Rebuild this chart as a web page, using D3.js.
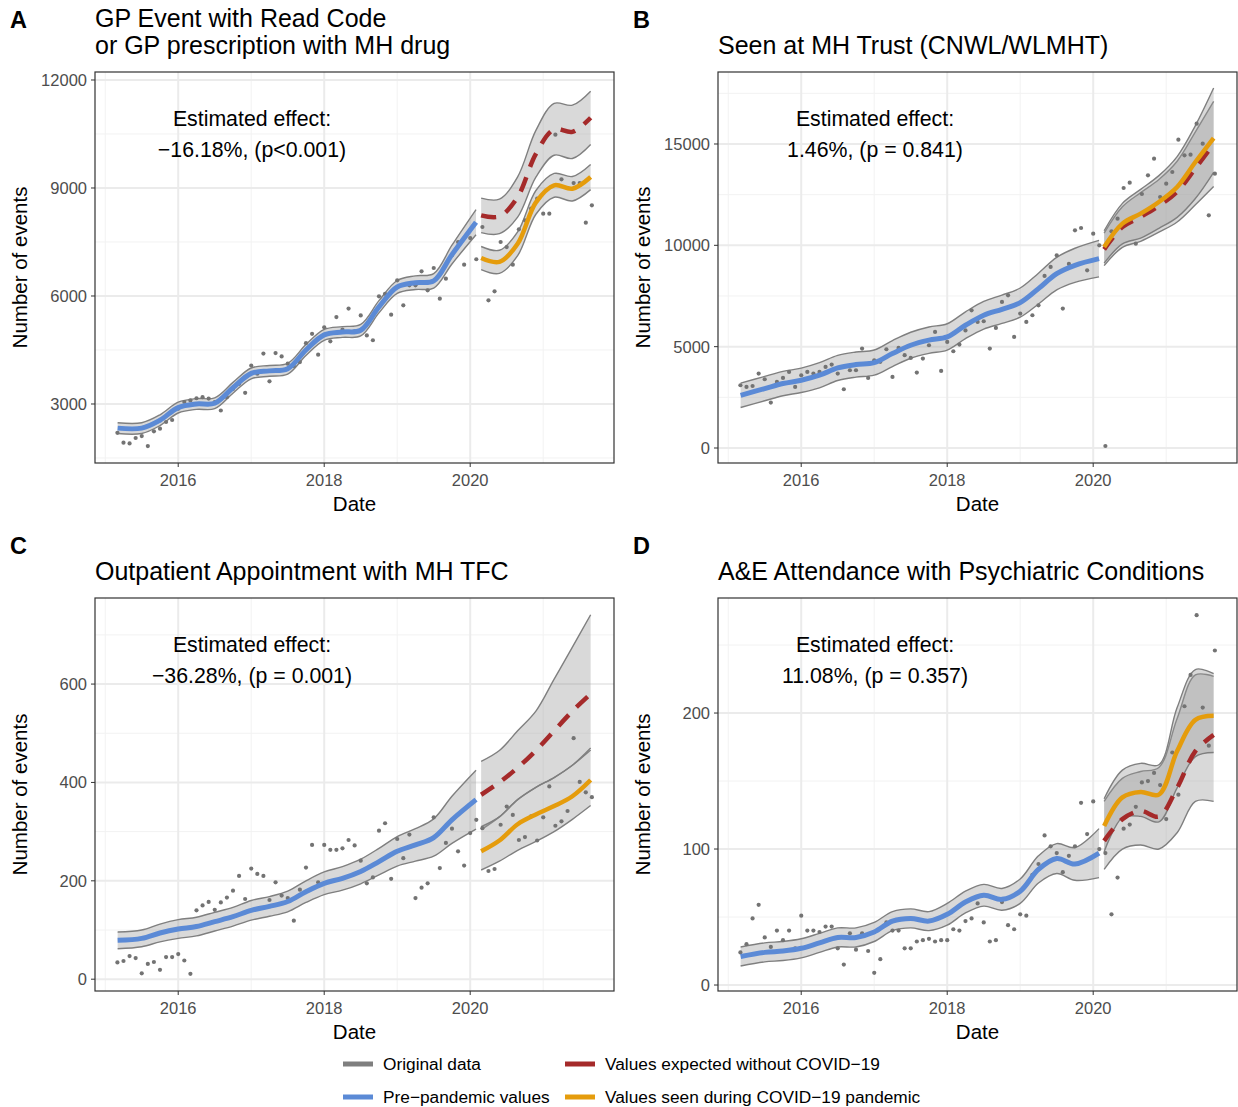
<!DOCTYPE html>
<html><head><meta charset="utf-8">
<script src="https://cdn.jsdelivr.net/npm/d3@7"></script>
<style>body{margin:0;background:#fff}text{font-family:"Liberation Sans",Arial,sans-serif}</style>
</head><body><svg id="chart" width="1238" height="1107"></svg>
<script>
// month positions
var PRE_START = 2015.167, COV_START = 2020.167
var PRE_KNOTS = [2015.17,2015.5,2015.75,2016,2016.25,2016.5,2016.75,2017,2017.25,2017.5,2017.75,2018,2018.25,2018.5,2018.75,2019,2019.25,2019.5,2019.75,2020.08]
var COV_KNOTS = [2020.15,2020.4,2020.65,2020.9,2021.15,2021.4,2021.65]
var X_TICKS = [2016,2018,2020]

// panel A
var aPts = [2200,1925,1905,2055,2110,1830,2240,2315,2500,2555,2870,3055,3100,3160,3190,3150,3050,2820,3190,3420,3560,3310,4070,3840,4400,3630,4415,4320,4120,4055,4165,4690,4950,4370,5130,4740,5415,5065,5650,5020,5460,4905,4770,5990,6060,5480,6435,5740,6295,6295,6685,6157,6777,5925,6480,7130,7500,6870,7610,7020]
var aCovPts = [7916,5879,6129,7500,7360,6870,7851,8101,8425,8703,8287,8287,10481,9240,9000,9138,9138,8037,8518]
var aFit = [2330,2330,2550,2900,3000,3020,3450,3850,3920,3980,4500,4920,5000,5050,5700,6250,6370,6420,7150,8050]
var aHw = [150,150,150,150,150,150,150,150,150,150,150,150,150,160,170,180,190,200,260,350]
var aCf = [8240,8210,8750,9950,10630,10560,10950]
var aCfLo = [7760,7730,8190,9300,9910,9820,10210]
var aCfHi = [8720,8690,9310,10600,11350,11300,11690]
var aObs = [7055,6950,7450,8600,9074,8980,9305]
var aObsLo = [6735,6630,7120,8270,8744,8640,8955]
var aObsHi = [7375,7270,7780,8930,9404,9320,9655]

// panel B
var bPts = [3096,3014,3060,3672,3392,2242,3261,3458,3754,3014,3590,3754,3672,3754,4000,4116,3672,2899,3836,3836,4905,3458,4330,4250,4872,3508,4937,4580,4444,3721,4412,5069,5727,3804,5234,4773,5102,5800,6795,6220,6253,4905,5925,7207,7535,5480,6631,6220,6550,7042,8489,8933,9508,6878,9080,10741,10856,8768,10577,10001]
var bCovPts = [100,10692,11316,12829,13092,10083,12533,13454,14276,12385,13043,13618,15213,14440,14473,16002,15015,11481,13536]
var bFit = [2600,2932,3180,3340,3590,3950,4116,4214,4660,5070,5320,5480,6056,6550,6845,7174,7864,8604,9015,9344]
var bHw = [600,600,600,600,620,620,620,620,640,640,650,650,660,680,700,720,760,800,840,900]
var bCf = [9800,10900,11400,11950,12650,13800,15000]
var bCfLo = [9000,9900,10200,10650,11150,12000,12900]
var bCfHi = [10600,11900,12600,13250,14150,15600,17100]
var bObs = [9919,11070,11563,12138,12878,14111,15295]
var bObsLo = [9120,10070,10360,10840,11380,12310,13600]
var bObsHi = [10720,12070,12760,13440,14380,15910,17760]

// panel C
var cPts = [34,37,47,43,12,31,35,19,45,45,51,38,11,140,150,157,141,156,166,180,210,163,225,214,210,161,197,170,165,119,182,227,273,197,273,263,263,266,283,272,241,195,207,302,317,204,285,246,294,165,186,195,329,226,277,306,260,231,297,324]
var cCovPts = [307,220,224,314,351,334,283,289,331,282,329,392,312,321,342,490,401,380,370]
var cFit = [79,83,94,102,107,117,127,140,148,158,178,195,205,219,239,260,273,288,324,365]
var cHw = [17,17,18,19,19,19,19,20,20,21,22,23,24,25,27,30,33,38,48,60]
var cCf = [375,400,430,465,505,545,580]
var cCfLo = [304,330,365,390,410,435,470]
var cCfHi = [443,465,505,545,610,675,741]
var cObs = [260,282,315,335,352,372,405]
var cObsLo = [222,240,262,280,300,325,353]
var cObsHi = [310,330,365,390,410,435,466]

// panel D
var dPts = [24,30,49,59,35,28,40,33,40,27,51,40,40,39,43,43,27,15,38,26,38,25,9,19,46,40,40,27,27,32,33,34,32,33,33,41,40,47,49,60,46,32,33,61,44,41,52,51,81,89,110,102,97,83,95,102,134,111,135,100]
var dCovPts = [97,52,79,115,118,131,149,150,156,147,122,171,140,205,228,272,204,176,246]
var dFit = [21,24,25,27,31,35,35,39,47,49,47,52,61,66,63,69,85,93,89,97]
var dHw = [7,7,7,7,7,7,7,7,7,7,7,8,8,8,8,9,10,11,12,18]
var dCf = [106,122,128,124,145,172,184]
var dCfLo = [85,100,103,100,112,135,135]
var dCfHi = [135,152,157,160,196,228,227]
var dObs = [117,138,142,140,172,195,198]
var dObsLo = [98,123,124,120,145,168,171]
var dObsHi = [137,158,163,162,204,232,229]

var COL_BLUE = "#5b8ad6", COL_RED = "#a52a2a", COL_ORANGE = "#e59c0c", COL_GREY = "#7f7f7f"

var svg = d3.select("#chart")

var panels = [
  {tag:"A", title:["GP Event with Read Code","or GP prescription with MH drug"], x:95, y:72, h:391, dom:[1361,12222], ticks:[3000,6000,9000,12000], minor:[1500,4500,7500,10500],
   eff:"\u221216.18%, (p<0.001)", pts:aPts, cov:aCovPts, fit:aFit, hw:aHw, cf:aCf, cfLo:aCfLo, cfHi:aCfHi, obs:aObs, obsLo:aObsLo, obsHi:aObsHi},
  {tag:"B", title:["Seen at MH Trust (CNWL/WLMHT)"], x:718, y:72, h:391, dom:[-740,18552], ticks:[0,5000,10000,15000], minor:[2500,7500,12500,17500],
   eff:"1.46%, (p = 0.841)", pts:bPts, cov:bCovPts, fit:bFit, hw:bHw, cf:bCf, cfLo:bCfLo, cfHi:bCfHi, obs:bObs, obsLo:bObsLo, obsHi:bObsHi},
  {tag:"C", title:["Outpatient Appointment with MH TFC"], x:95, y:598, h:393, dom:[-24,775], ticks:[0,200,400,600], minor:[100,300,500,700],
   eff:"\u221236.28%, (p = 0.001)", pts:cPts, cov:cCovPts, fit:cFit, hw:cHw, cf:cCf, cfLo:cCfLo, cfHi:cCfHi, obs:cObs, obsLo:cObsLo, obsHi:cObsHi},
  {tag:"D", title:["A&E Attendance with Psychiatric Conditions"], x:718, y:598, h:393, dom:[-4.4,284.6], ticks:[0,100,200], minor:[50,150,250],
   eff:"11.08%, (p = 0.357)", pts:dPts, cov:dCovPts, fit:dFit, hw:dHw, cf:dCf, cfLo:dCfLo, cfHi:dCfHi, obs:dObs, obsLo:dObsLo, obsHi:dObsHi}
]

panels.forEach(drawPanel)
drawLegend()

function drawPanel(p) {
  var W = 519
  var g = svg.append("g").attr("transform", "translate(" + p.x + "," + p.y + ")")
  var x = d3.scaleLinear().domain([2014.86, 2021.97]).range([0, W])
  var y = d3.scaleLinear().domain(p.dom).range([p.h, 0])

  // grid
  ;[2015,2017,2019,2021].forEach(function(t) {
    g.append("line").attr("x1", x(t)).attr("x2", x(t)).attr("y1", 0).attr("y2", p.h).attr("stroke", "#f2f2f2").attr("stroke-width", 1)
  })
  p.minor.forEach(function(v) {
    if (y(v) > 0) g.append("line").attr("x1", 0).attr("x2", W).attr("y1", y(v)).attr("y2", y(v)).attr("stroke", "#f2f2f2").attr("stroke-width", 1)
  })
  X_TICKS.forEach(function(t) {
    g.append("line").attr("x1", x(t)).attr("x2", x(t)).attr("y1", 0).attr("y2", p.h).attr("stroke", "#ebebeb").attr("stroke-width", 2)
  })
  p.ticks.forEach(function(v) {
    g.append("line").attr("x1", 0).attr("x2", W).attr("y1", y(v)).attr("y2", y(v)).attr("stroke", "#ebebeb").attr("stroke-width", 2)
  })

  var preRows = PRE_KNOTS.map(function(t, i) { return {t:t, v:p.fit[i], lo:p.fit[i]-p.hw[i], hi:p.fit[i]+p.hw[i]} })
  var cfRows = COV_KNOTS.map(function(t, i) { return {t:t, v:p.cf[i], lo:p.cfLo[i], hi:p.cfHi[i]} })
  var obsRows = COV_KNOTS.map(function(t, i) { return {t:t, v:p.obs[i], lo:p.obsLo[i], hi:p.obsHi[i]} })

  var curve = d3.curveCatmullRom
  var area = d3.area().curve(curve).x(function(d) { return x(d.t) }).y0(function(d) { return y(d.lo) }).y1(function(d) { return y(d.hi) })
  var line = function(key) { return d3.line().curve(curve).x(function(d) { return x(d.t) }).y(function(d) { return y(d[key]) }) }

  ;[preRows, cfRows, obsRows].forEach(function(rows) {
    g.append("path").datum(rows).attr("d", area).attr("fill", "#9a9a9a").attr("fill-opacity", 0.38)
    ;["lo","hi"].forEach(function(k) {
      g.append("path").datum(rows).attr("d", line(k)).attr("fill", "none").attr("stroke", COL_GREY).attr("stroke-width", 1.4)
    })
  })

  // points
  var pts = p.pts.map(function(v, i) { return {t:PRE_START + i/12, v:v} })
    .concat(p.cov.map(function(v, i) { return {t:COV_START + i/12, v:v} }))
  g.selectAll("circle.pt").data(pts).enter().append("circle")
    .attr("cx", function(d) { return x(d.t) }).attr("cy", function(d) { return y(d.v) })
    .attr("r", 2.1).attr("fill", "#737373")

  g.append("path").datum(preRows).attr("d", line("v")).attr("fill", "none").attr("stroke", COL_BLUE).attr("stroke-width", 5)
  g.append("path").datum(cfRows).attr("d", line("v")).attr("fill", "none").attr("stroke", COL_RED).attr("stroke-width", 4.5).attr("stroke-dasharray", "15,11")
  g.append("path").datum(obsRows).attr("d", line("v")).attr("fill", "none").attr("stroke", COL_ORANGE).attr("stroke-width", 4.5)

  // border
  g.append("rect").attr("width", W).attr("height", p.h).attr("fill", "none").attr("stroke", "#333").attr("stroke-width", 1.2)

  // axes ticks
  X_TICKS.forEach(function(t) {
    g.append("line").attr("x1", x(t)).attr("x2", x(t)).attr("y1", p.h).attr("y2", p.h + 4).attr("stroke", "#333")
    g.append("text").attr("x", x(t)).attr("y", p.h + 23).attr("text-anchor", "middle").attr("font-size", 16.5).attr("fill", "#4d4d4d").text(t)
  })
  p.ticks.forEach(function(v) {
    g.append("line").attr("x1", -4).attr("x2", 0).attr("y1", y(v)).attr("y2", y(v)).attr("stroke", "#333")
    g.append("text").attr("x", -8).attr("y", y(v) + 6).attr("text-anchor", "end").attr("font-size", 16.5).attr("fill", "#4d4d4d").text(v)
  })

  g.append("text").attr("x", W/2).attr("y", p.h + 48).attr("text-anchor", "middle").attr("font-size", 20.5).text("Date")
  g.append("text").attr("transform", "translate(" + (-68) + "," + (p.h/2) + ") rotate(-90)").attr("text-anchor", "middle").attr("font-size", 20.5).text("Number of events")

  // effect label
  g.append("text").attr("x", 157).attr("y", 54).attr("text-anchor", "middle").attr("font-size", 21.3).text("Estimated effect:")
  g.append("text").attr("x", 157).attr("y", 85).attr("text-anchor", "middle").attr("font-size", 21.3).text(p.eff)

  // titles
  var ty = p.title.length == 2 ? -45 : -18
  p.title.forEach(function(s, i) {
    g.append("text").attr("x", 0).attr("y", ty + i*27).attr("font-size", 25).text(s)
  })
  g.append("text").attr("x", -85).attr("y", -44).attr("font-size", 23.5).attr("font-weight", "bold").text(p.tag)
}

function drawLegend() {
  var items = [
    {label:"Original data", col:COL_GREY, x:343, y:1064},
    {label:"Values expected without COVID\u221219", col:COL_RED, x:565, y:1064},
    {label:"Pre\u2212pandemic values", col:COL_BLUE, x:343, y:1097},
    {label:"Values seen during COVID\u221219 pandemic", col:COL_ORANGE, x:565, y:1097}
  ]
  items.forEach(function(it) {
    svg.append("line").attr("x1", it.x).attr("x2", it.x + 30).attr("y1", it.y).attr("y2", it.y).attr("stroke", it.col).attr("stroke-width", 5)
    svg.append("text").attr("x", it.x + 40).attr("y", it.y + 6).attr("font-size", 17.3).text(it.label)
  })
}
</script></body></html>
